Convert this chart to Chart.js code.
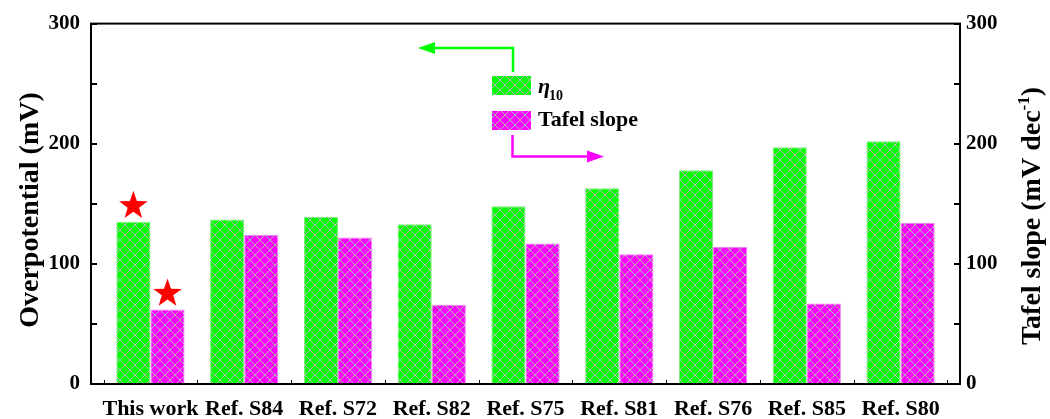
<!DOCTYPE html>
<html>
<head>
<meta charset="utf-8">
<script src="https://cdn.jsdelivr.net/npm/chart.js@4.4.1/dist/chart.umd.min.js"></script>
<style>
  html, body { margin: 0; padding: 0; background: #ffffff; }
  #wrap { width: 1050px; height: 419px; }
  canvas { display: block; }
</style>
</head>
<body>
<div id="wrap"><canvas id="chart" width="1050" height="419"></canvas></div>
<script>
// Samples compared on the x axis
const categories = ['This work', 'Ref. S84', 'Ref. S72', 'Ref. S82', 'Ref. S75', 'Ref. S81', 'Ref. S76', 'Ref. S85', 'Ref. S80'];
// Overpotential at 10 mA cm-2 (mV), left axis
const eta10 = [135, 137, 139, 133, 148, 163, 178, 197, 202];
// Tafel slope (mV dec-1), right axis
const tafelSlope = [62, 124, 122, 66, 117, 108, 114, 67, 134];
// Axis ticks (both y axes share the same range)
const yMajorTicks = [0, 100, 200, 300];
const yMinorTicks = [50, 150, 250];
// Sample highlighted with red stars
const highlightIndex = 0;

const SERIF = '"Liberation Serif", "Times New Roman", Times, serif';
const GREEN = '#00ff00';
const MAGENTA = '#ff00ff';

// Cross-hatched fill: solid colour with light grey diagonal lattice
function hatch(color) {
  const s = 10;
  const c = document.createElement('canvas');
  c.width = s; c.height = s;
  const g = c.getContext('2d');
  g.fillStyle = color;
  g.fillRect(0, 0, s, s);
  g.strokeStyle = '#b4b4b4';
  g.lineWidth = 1;
  g.beginPath();
  for (const o of [-s, 0, s]) {
    g.moveTo(o - 1, -1); g.lineTo(o + s + 1, s + 1);
    g.moveTo(o - 1, s + 1); g.lineTo(o + s + 1, -1);
  }
  g.stroke();
  return g.createPattern(c, 'repeat');
}
const greenFill = hatch(GREEN);
const magentaFill = hatch(MAGENTA);

function starPath(ctx, cx, cy, R, r) {
  ctx.beginPath();
  for (let k = 0; k < 10; k++) {
    const rad = k % 2 === 0 ? R : r;
    const a = -Math.PI / 2 + k * Math.PI / 5;
    const x = cx + rad * Math.cos(a), y = cy + rad * Math.sin(a);
    k === 0 ? ctx.moveTo(x, y) : ctx.lineTo(x, y);
  }
  ctx.closePath();
}

function arrow(ctx, pts, color) {
  ctx.save();
  ctx.strokeStyle = color;
  ctx.fillStyle = color;
  ctx.lineWidth = 2.5;
  ctx.beginPath();
  ctx.moveTo(pts[0][0], pts[0][1]);
  for (let i = 1; i < pts.length - 1; i++) ctx.lineTo(pts[i][0], pts[i][1]);
  const [tx, ty] = pts[pts.length - 1];
  const [px] = pts[pts.length - 2];
  const dir = Math.sign(tx - px);
  const baseX = tx - dir * 17;
  ctx.lineTo(baseX, ty);
  ctx.stroke();
  ctx.beginPath();
  ctx.moveTo(tx, ty);
  ctx.lineTo(baseX, ty - 6);
  ctx.lineTo(baseX, ty + 6);
  ctx.closePath();
  ctx.fill();
  ctx.restore();
}

// Frame, inward ticks, stars, legend, arrows and axis titles
const decorations = {
  id: 'decorations',
  afterDatasetsDraw(chart) {
    const ctx = chart.ctx;
    const a = chart.chartArea;
    const y = chart.scales.y, y1 = chart.scales.y1, x = chart.scales.x;

    // stars above the highlighted pair of bars
    ctx.save();
    ctx.fillStyle = '#ff0000';
    for (const di of [0, 1]) {
      const bar = chart.getDatasetMeta(di).data[highlightIndex];
      starPath(ctx, bar.x, bar.y - 16, 15, 6);
      ctx.fill();
    }
    ctx.restore();

    // frame
    ctx.save();
    ctx.strokeStyle = '#000';
    ctx.lineWidth = 2;
    ctx.strokeRect(a.left, a.top, a.right - a.left, a.bottom - a.top);

    // inward ticks on both y axes
    ctx.beginPath();
    for (const v of yMajorTicks.concat(yMinorTicks)) {
      const len = 6;
      const py = Math.round(y.getPixelForValue(v));
      ctx.moveTo(a.left, py); ctx.lineTo(a.left + len, py);
      const py1 = Math.round(y1.getPixelForValue(v));
      ctx.moveTo(a.right, py1); ctx.lineTo(a.right - len, py1);
    }
    ctx.stroke();
    // small ticks on the category axis
    ctx.lineWidth = 1;
    ctx.beginPath();
    for (let i = 0; i < categories.length; i++) {
      for (const off of [-0.5, 0.5]) {
        const px = Math.round(x.getPixelForValue(i + off)) + 0.5;
        ctx.moveTo(px, a.bottom); ctx.lineTo(px, a.bottom - 4);
      }
    }
    ctx.stroke();
    ctx.restore();

    // legend
    ctx.save();
    ctx.fillStyle = greenFill;
    ctx.fillRect(492, 76, 39, 19);
    ctx.fillStyle = magentaFill;
    ctx.fillRect(492, 111, 39, 19);
    ctx.fillStyle = '#000';
    ctx.textBaseline = 'alphabetic';
    ctx.textAlign = 'left';
    ctx.font = 'italic bold 22px ' + SERIF;
    ctx.fillText('\u03b7', 538, 93);
    ctx.font = 'bold 14px ' + SERIF;
    ctx.fillText('10', 549, 100);
    ctx.font = 'bold 22px ' + SERIF;
    ctx.fillText('Tafel slope', 538, 126);
    ctx.restore();

    // arrows pointing to the axis each series belongs to
    arrow(ctx, [[513, 72], [513, 48], [418, 48]], GREEN);
    arrow(ctx, [[512.5, 135], [512.5, 156.5], [604, 156.5]], MAGENTA);

    // axis titles
    ctx.save();
    ctx.fillStyle = '#000';
    ctx.font = 'bold 28px ' + SERIF;
    ctx.textBaseline = 'alphabetic';
    ctx.textAlign = 'center';
    ctx.translate(38, 210);
    ctx.rotate(-Math.PI / 2);
    ctx.fillText('Overpotential (mV)', 0, 0);
    ctx.restore();

    ctx.save();
    ctx.fillStyle = '#000';
    ctx.textBaseline = 'alphabetic';
    ctx.textAlign = 'left';
    const main = 'Tafel slope (mV dec';
    const sup = '-1';
    const close = ')';
    ctx.font = 'bold 28px ' + SERIF;
    const wMain = ctx.measureText(main).width;
    const wClose = ctx.measureText(close).width;
    ctx.font = 'bold 17px ' + SERIF;
    const wSup = ctx.measureText(sup).width;
    const total = wMain + wSup + wClose;
    ctx.translate(1040, 216);
    ctx.rotate(-Math.PI / 2);
    let cx = -total / 2;
    ctx.font = 'bold 28px ' + SERIF;
    ctx.fillText(main, cx, 0);
    cx += wMain;
    ctx.font = 'bold 17px ' + SERIF;
    ctx.fillText(sup, cx, -11);
    cx += wSup;
    ctx.font = 'bold 28px ' + SERIF;
    ctx.fillText(close, cx, 0);
    ctx.restore();
  }
};

const tickFont = { family: SERIF, size: 21, weight: 'bold' };

new Chart(document.getElementById('chart'), {
  type: 'bar',
  data: {
    datasets: [
      {
        label: '\u03b710',
        data: eta10.map((v, i) => ({ x: i, y: v })),
        yAxisID: 'y',
        backgroundColor: greenFill,
        borderColor: '#7fe87f',
        borderWidth: 1
      },
      {
        label: 'Tafel slope',
        data: tafelSlope.map((v, i) => ({ x: i, y: v })),
        yAxisID: 'y1',
        backgroundColor: magentaFill,
        borderColor: '#f27ff2',
        borderWidth: 1
      }
    ]
  },
  options: {
    responsive: false,
    animation: false,
    devicePixelRatio: 1,
    layout: { padding: { top: 23, left: 0, right: 0, bottom: 0 } },
    datasets: { bar: { categoryPercentage: 0.728, barPercentage: 1.0 } },
    plugins: { legend: { display: false }, tooltip: { enabled: false } },
    scales: {
      x: {
        type: 'linear',
        offset: false,
        bounds: 'data',
        min: -0.634,
        max: 8.634,
        grid: { display: false, drawTicks: false, offset: false },
        border: { display: false },
        afterBuildTicks: s => { s.ticks = categories.map((_, i) => ({ value: i })); },
        afterFit: s => { s.height = 35; },
        ticks: {
          autoSkip: false, maxRotation: 0, minRotation: 0, padding: 12,
          color: '#000', font: { family: SERIF, size: 22, weight: 'bold' },
          callback: v => categories[v] ?? ''
        }
      },
      y: {
        position: 'left',
        min: 0, max: 300,
        grid: { display: false, drawTicks: false },
        border: { display: false },
        afterBuildTicks: s => { s.ticks = yMajorTicks.map(v => ({ value: v })); },
        afterFit: s => { s.width = 91; },
        ticks: { padding: 11, color: '#000', font: tickFont }
      },
      y1: {
        position: 'right',
        min: 0, max: 300,
        grid: { display: false, drawTicks: false },
        border: { display: false },
        afterBuildTicks: s => { s.ticks = yMajorTicks.map(v => ({ value: v })); },
        afterFit: s => { s.width = 90; },
        ticks: { padding: 6, color: '#000', font: tickFont }
      }
    }
  },
  plugins: [decorations]
});
</script>
</body>
</html>
